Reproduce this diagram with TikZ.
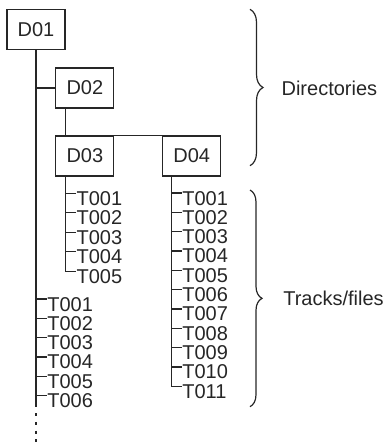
\documentclass[tikz,border=0pt]{standalone}
\usepackage{fontspec}
\setmainfont{Liberation Sans}
\usetikzlibrary{calc,decorations.pathreplacing}

\tikzset{
  dirbox/.style={draw, minimum width=29pt, minimum height=20pt, inner sep=0pt,
    font=\fontsize{10}{12}\selectfont},
  track/.style={anchor=base west, inner sep=0pt, font=\fontsize{10}{12}\selectfont},
  note/.style={anchor=base west, inner sep=0pt, font=\fontsize{10}{12}\selectfont},
}

\begin{document}
\begin{tikzpicture}[x=0.5pt, y=-0.5pt, line width=0.6pt, color=black!85]
  \useasboundingbox (0,0) rectangle (387,445);

  % Directory boxes
  \node[dirbox] (D01) at (36,29.5) {D01};
  \node[dirbox] (D02) at (84.85,88) {D02};
  \node[dirbox] (D03) at (84.85,156) {D03};
  \node[dirbox] (D04) at (191.7,156) {D04};

  % x positions of the vertical lines
  \coordinate (s1) at (36,0);
  \coordinate (s3) at (65.7,0);
  \coordinate (s4) at (171.7,0);

  % Tracks of D03
  \foreach \i in {1,...,5} {
    \node[track] (a\i) at (76,{205.3+19.5*(\i-1)}) {T00\i};
  }
  % Tracks of D04
  \foreach \i in {1,...,11} {
    \node[track] (b\i) at (181.7,{205+19.33*(\i-1)}) {T0\ifnum\i<10 0\fi\i};
  }
  % Tracks of D01
  \foreach \i in {1,...,6} {
    \node[track] (c\i) at (46.7,{311+19.33*(\i-1)}) {T00\i};
  }

  % Tree lines
  \coordinate (trunkend) at (36,406.7);
  \draw (D01.south) -- (trunkend);
  \draw[dash pattern=on 1.5pt off 2.9pt] (36,413) -- (36,445);
  \draw (D01.south |- D02.west) -- (D02.west);
  \draw (D02.south -| s3) -- (D03.north -| s3) -- (D04.north west);

  \draw (D03.south -| s3) |- ([yshift=-1.3pt]a5.north west);
  \foreach \i in {1,...,4} {
    \draw ([yshift=-1.3pt]a\i.north west) -- ([yshift=-1.3pt]a\i.north west -| s3);
  }
  \draw (D04.south -| s4) |- ([yshift=-1.3pt]b11.north west);
  \foreach \i in {1,...,10} {
    \draw ([yshift=-1.3pt]b\i.north west) -- ([yshift=-1.3pt]b\i.north west -| s4);
  }
  \foreach \i in {1,...,6} {
    \draw ([yshift=-1.3pt]c\i.north west) -- ([yshift=-1.3pt]c\i.north west -| s1);
  }

  % Braces
  \draw[decorate, decoration={brace, amplitude=6.5pt}] (250,9.3) -- (250,165.7);
  \node[note] (dirs) at (281,95) {Directories};
  \draw[decorate, decoration={brace, amplitude=6pt}] (250,190) -- (250,406.7);
  \node[note] (files) at (282.7,305) {Tracks/files};
\end{tikzpicture}
\end{document}
